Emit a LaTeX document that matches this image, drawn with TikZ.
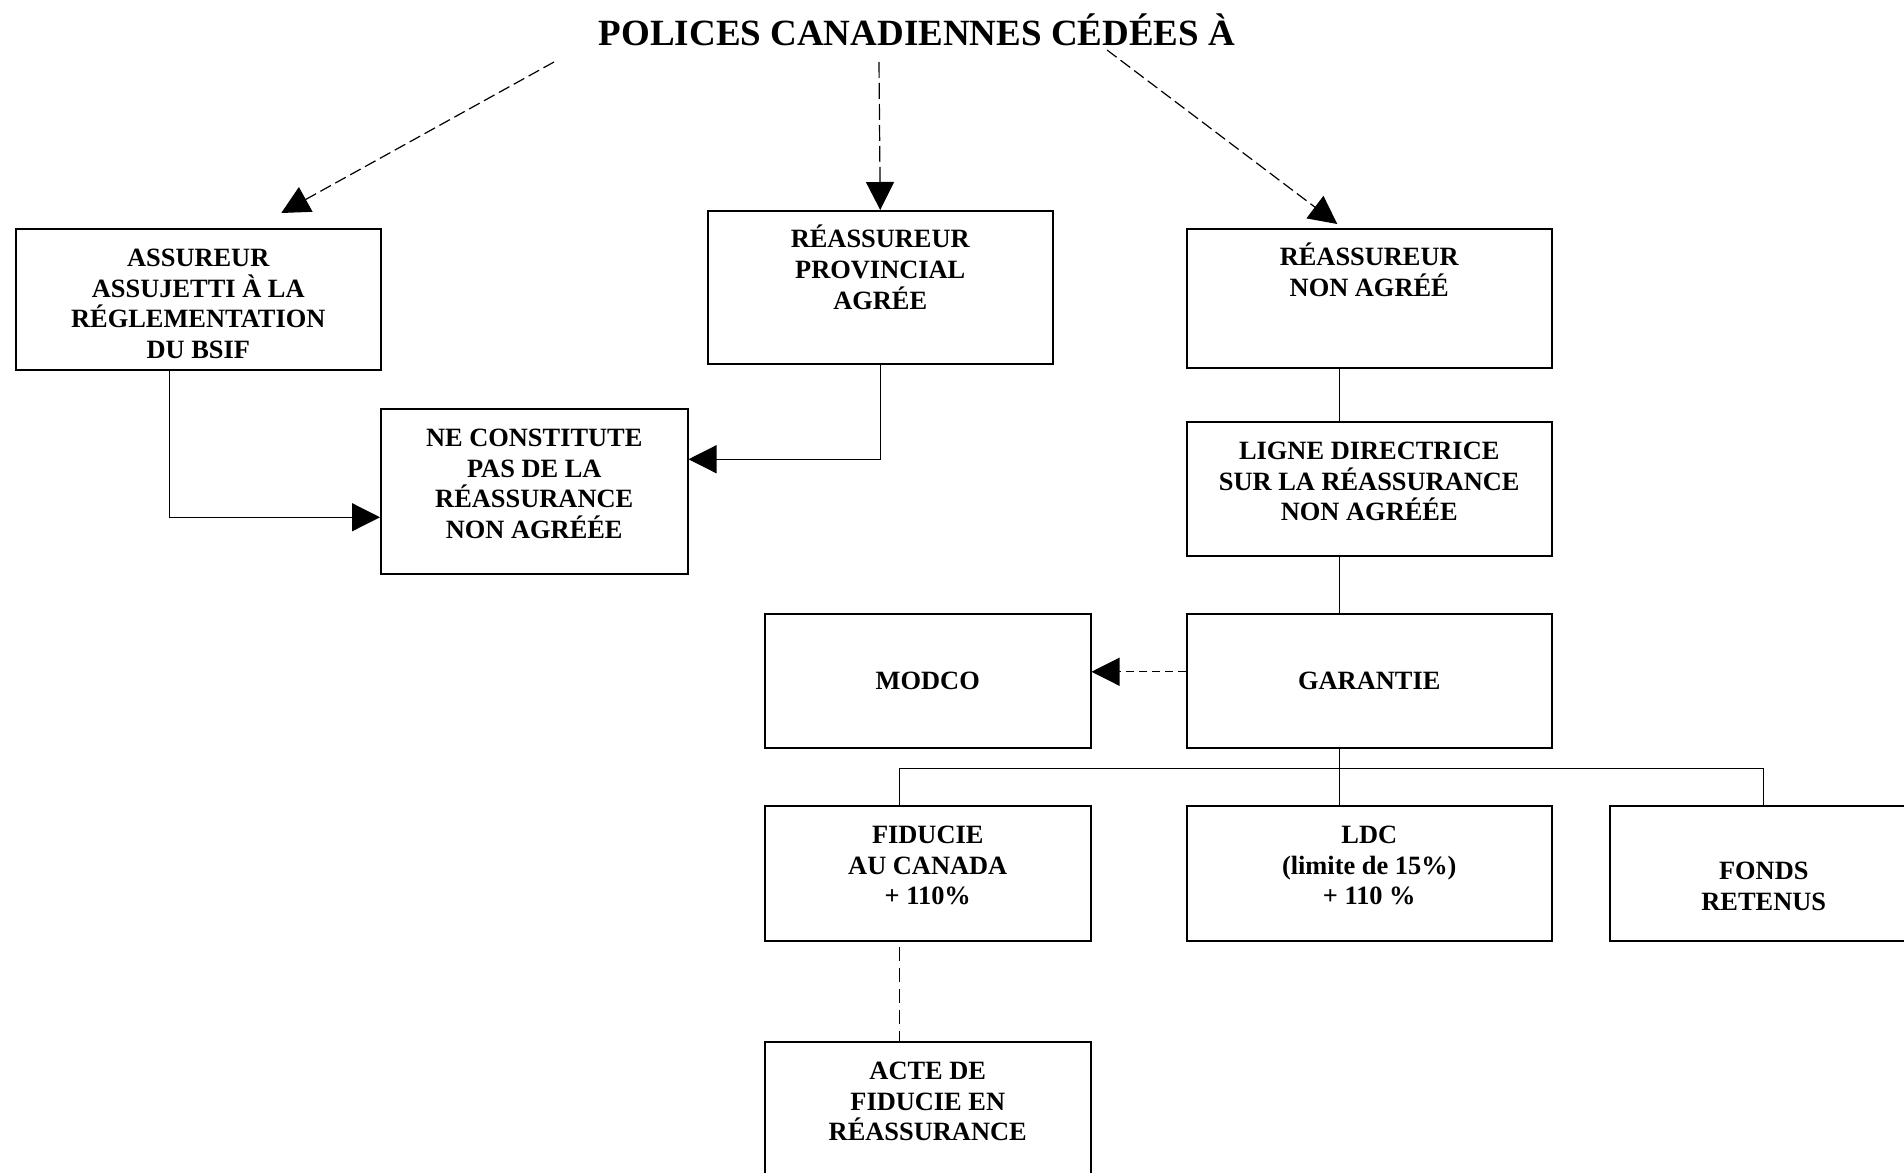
\documentclass[tikz,border=0pt]{standalone}
\usepackage{fontspec}
\setmainfont{Liberation Serif}
\usetikzlibrary{arrows.meta,positioning}

\tikzset{
    box/.style={draw, line width=0.75pt, inner sep=0pt, anchor=north west,
        font=\bfseries\fontsize{13.2}{15.4}\selectfont},
    boxtext/.style={anchor=north, inner sep=0pt, yshift=-10.25pt, align=center,
        font=\bfseries\fontsize{13.2}{15.4}\selectfont},
    titletext/.style={font=\bfseries\fontsize{18.5}{22}\selectfont},
    link/.style={line width=0.6pt},
    tip/.style={-{Triangle[length=14pt, width=14pt]}},
    dashlink/.style={link, dash pattern=on 6pt off 2.5pt},
}

\begin{document}
\begin{tikzpicture}[x=0.5pt, y=-0.5pt]
    \useasboundingbox (0,0) rectangle (1904,1172);

    % Title
    \node[titletext, anchor=base] (title) at (917,46) {POLICES CANADIENNES CÉDÉES À};
    \coordinate (from1) at (554,62);
    \coordinate (from2) at (879,62);
    \coordinate (from3) at (1107,50);

    % First row (accented first lines sit a little higher)
    \node[box, minimum width=182.5pt, minimum height=70.5pt,
        label={[boxtext]north:{ASSUREUR\\ASSUJETTI À LA\\RÉGLEMENTATION\\DU BSIF}}] (assureur) at (15,228) {};
    \node[box, minimum width=172.5pt, minimum height=76.5pt,
        label={[boxtext, yshift=2.9pt]north:{RÉASSUREUR\\PROVINCIAL\\AGRÉE}}] (provincial) at (707,210) {};
    \node[box, minimum width=182.5pt, minimum height=69.5pt,
        label={[boxtext, yshift=2.9pt]north:{RÉASSUREUR\\NON AGRÉÉ}}] (nonagree) at (1186,228) {};

    % Second row
    \node[box, minimum width=153.5pt, minimum height=82.5pt,
        label={[boxtext]north:{NE CONSTITUTE\\PAS DE LA\\RÉASSURANCE\\NON AGRÉÉE}}] (neconst) at (380,408) {};
    \node[box, minimum width=182.5pt, minimum height=67pt,
        label={[boxtext]north:{LIGNE DIRECTRICE\\SUR LA RÉASSURANCE\\NON AGRÉÉE}}] (ligne) at (1186,421) {};

    % Third row
    \node[box, minimum width=163pt, minimum height=67pt] (modco) at (764,613) {MODCO};
    \node[box, minimum width=182.5pt, minimum height=67pt] (garantie) at (1186,613) {GARANTIE};

    % Fourth row
    \node[box, minimum width=163pt, minimum height=67.5pt,
        label={[boxtext]north:{FIDUCIE\\AU CANADA\\+ 110\%}}] (fiducie) at (764,805) {};
    \node[box, minimum width=182.5pt, minimum height=67.5pt,
        label={[boxtext]north:{LDC\\(limite de 15\%)\\+ 110 \%}}] (ldc) at (1186,805) {};
    \node[box, minimum width=154pt, minimum height=67.5pt,
        label={[boxtext, yshift=-18pt]north:{FONDS\\RETENUS}}] (fonds) at (1609,805) {};

    % Last box
    \node[box, minimum width=163pt, minimum height=80pt,
        label={[boxtext]north:{ACTE DE\\FIDUCIE EN\\RÉASSURANCE}}] (acte) at (764,1041) {};

    % Dashed arrows from the title
    \draw[dashlink, tip] (from1) -- ([xshift=41.5pt, yshift=7.5pt]assureur.north);
    \draw[link, dash pattern=on 8pt off 2.5pt, tip] (from2) -- (provincial.north);
    \draw[dashlink, tip] (from3) -- ([xshift=-16pt, yshift=2pt]nonagree.north);

    % Elbow arrows into the second-row box
    \draw[link, tip] ([xshift=-14.5pt]assureur.south) |- ([yshift=-13pt]neconst.west);
    \draw[link, tip] (provincial.south) |- ([yshift=16pt]neconst.east);

    % Right-hand column
    \draw[link] ([xshift=-14.75pt]nonagree.south) -- ([xshift=-14.75pt]ligne.north);
    \draw[link] ([xshift=-14.75pt]ligne.south) -- ([xshift=-14.75pt]garantie.north);
    \draw[dashlink, dash pattern=on 4pt off 2.5pt, tip] ([yshift=4.5pt]garantie.west) -- ([yshift=4.5pt]modco.east);

    % Split below GARANTIE
    \coordinate (split) at ([xshift=-14.75pt, yshift=-10pt]garantie.south);
    \draw[link] ([xshift=-14.75pt]garantie.south) -- (split);
    \draw[link] ([xshift=-14pt]fiducie.north) |- (split) -| (fonds.north);
    \draw[link] (split) -- ([xshift=-14.75pt]ldc.north);

    % Trust deed
    \draw[link, dash pattern=on 7pt off 3.5pt, shorten <=2.5pt] ([xshift=-14pt]fiducie.south) -- ([xshift=-14pt]acte.north);
\end{tikzpicture}
\end{document}
